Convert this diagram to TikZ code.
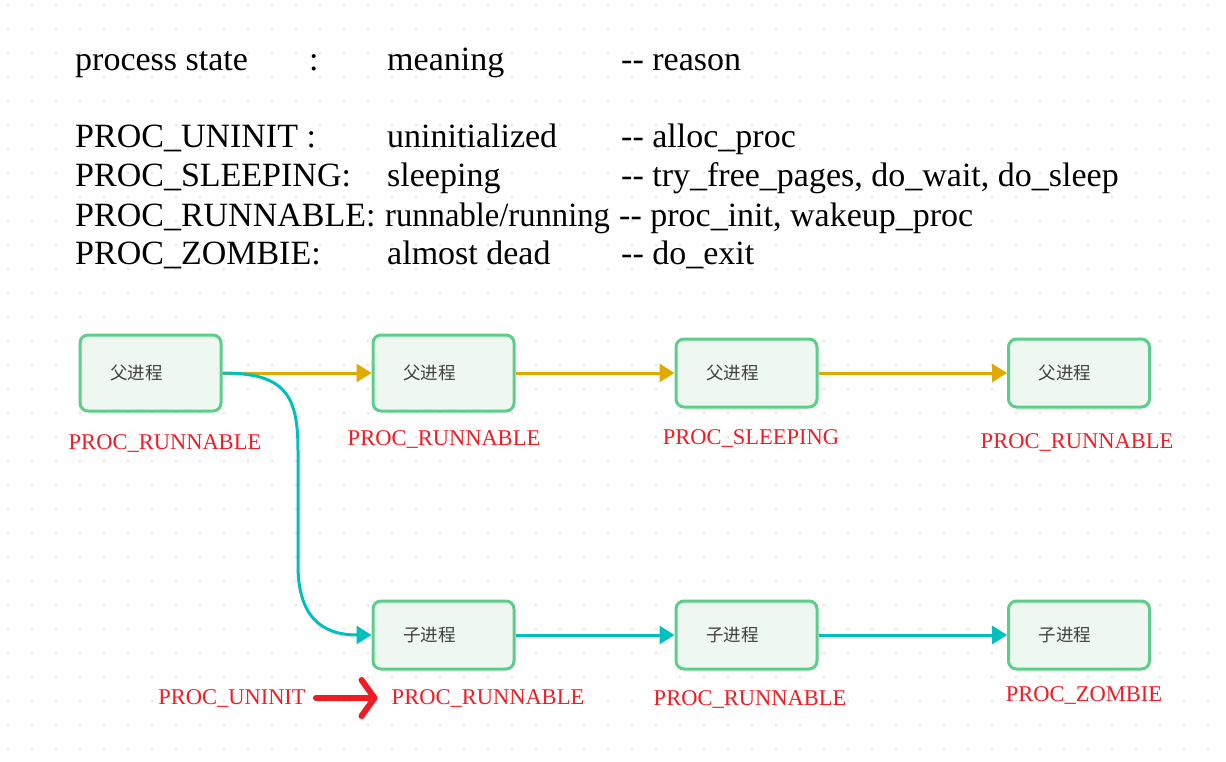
\documentclass[tikz,border=0pt]{standalone}
\usepackage{fontspec}
\setmainfont{Liberation Serif}
\newfontfamily\cjk{Noto Sans CJK SC}
\usetikzlibrary{arrows.meta}

\definecolor{boxline}{HTML}{5CCE8A}
\definecolor{boxfill}{HTML}{EEF8F1}
\definecolor{boxtext}{HTML}{404040}
\definecolor{parentline}{HTML}{E0AA00}
\definecolor{childline}{HTML}{00BFBF}
\definecolor{statered}{HTML}{F01C24}
\definecolor{gridgrey}{HTML}{D9D9D9}

\tikzset{
  procbox/.style={draw=boxline, fill=boxfill, line width=3pt, rounded corners=8pt,
    minimum height=68pt, text width=81pt, inner xsep=30pt, align=left,
    font=\cjk\fontsize{17.5}{20}\selectfont, text=boxtext},
  statelbl/.style={text=statered, inner sep=0pt, font=\fontsize{22.5}{24}\selectfont},
  hdtext/.style={anchor=base west, inner sep=0pt, font=\fontsize{34}{36}\selectfont},
  parentarrow/.style={draw=parentline, line width=3pt, -{Triangle[length=15pt,width=18pt]}},
  childarrow/.style={draw=childline, line width=3pt, -{Triangle[length=15pt,width=18pt]}},
}

\begin{document}
\begin{tikzpicture}[x=1pt, y=-1pt]

\useasboundingbox (0,0) rectangle (1226,762);
\fill [white] (0,0) rectangle (1226,762);
\foreach \x in {8,32,...,1226}
  \foreach \y in {5,29,...,762}
    \fill [gridgrey] (\x,\y) circle (1.1pt);

% table of states
\node [hdtext] (hstate) at (75,71) {process state};
\node [hdtext] (hcolon) at (309,71) {:};
\node [hdtext] (hmean) at (387,71) {meaning};
\node [hdtext] (hreason) at (621,71) {-{}- reason};

\node [hdtext] (suninit) at (75,148) {PROC\_UNINIT :};
\node [hdtext] (muninit) at (387,148) {uninitialized};
\node [hdtext] (runinit) at (621,148) {-{}- alloc\_proc};
\node [hdtext] (ssleep) at (75,187) {PROC\_SLEEPING:};
\node [hdtext] (msleep) at (387,187) {sleeping};
\node [hdtext] (rsleep) at (621,187) {-{}- try\_free\_pages, do\_wait, do\_sleep};
\node [hdtext] (srun) at (75,226) {PROC\_RUNNABLE:};
\node [hdtext, xscale=.96] (mrun) at (385,226) {runnable/running};
\node [hdtext] (rrun) at (619,226) {-{}- proc\_init, wakeup\_proc};
\node [hdtext] (szomb) at (75,265) {PROC\_ZOMBIE:};
\node [hdtext] (mzomb) at (387,265) {almost dead};
\node [hdtext] (rzomb) at (621,265) {-{}- do\_exit};

% parent process
\node [procbox, minimum height=76pt] (p1) at (150.5,373) {父进程};
\node [procbox, minimum height=76pt] (p2) at (443.5,373) {父进程};
\node [procbox] (p3) at (746.5,373) {父进程};
\node [procbox] (p4) at (1079,373) {父进程};

\node [statelbl] (lp1) at (165,443) {PROC\_RUNNABLE};
\node [statelbl] (lp2) at (444,439) {PROC\_RUNNABLE};
\node [statelbl] (lp3) at (751,438) {PROC\_SLEEPING};
\node [statelbl] (lp4) at (1077,442) {PROC\_RUNNABLE};

\draw [parentarrow] (p1.east) -- (p2.west);
\draw [parentarrow] (p2.east) -- (p3.west);
\draw [parentarrow] (p3.east) -- (p4.west);

% child process
\node [procbox] (c1) at (443.5,635) {子进程};
\node [procbox] (c2) at (746.5,635) {子进程};
\node [procbox] (c3) at (1079,635) {子进程};

\node [statelbl] (lc0) at (232,698) {PROC\_UNINIT};
\node [statelbl] (lc1) at (488,698) {PROC\_RUNNABLE};
\node [statelbl] (lc2) at (750,699) {PROC\_RUNNABLE};
\node [statelbl] (lc3) at (1084,695) {PROC\_ZOMBIE};

\draw [childarrow] (p1.east) .. controls (285,373) and (298,395) .. (298,450) -- (298,565)
  .. controls (298,615) and (320,635) .. (c1.west);
\draw [childarrow] (c1.east) -- (c2.west);
\draw [childarrow] (c2.east) -- (c3.west);

\draw [statered, line width=6pt, line cap=round, shorten <=10pt, shorten >=14pt,
  -{Straight Barb[length=13pt,width=36pt,round]}] (lc0.east) -- (lc1.west);

\end{tikzpicture}
\end{document}
